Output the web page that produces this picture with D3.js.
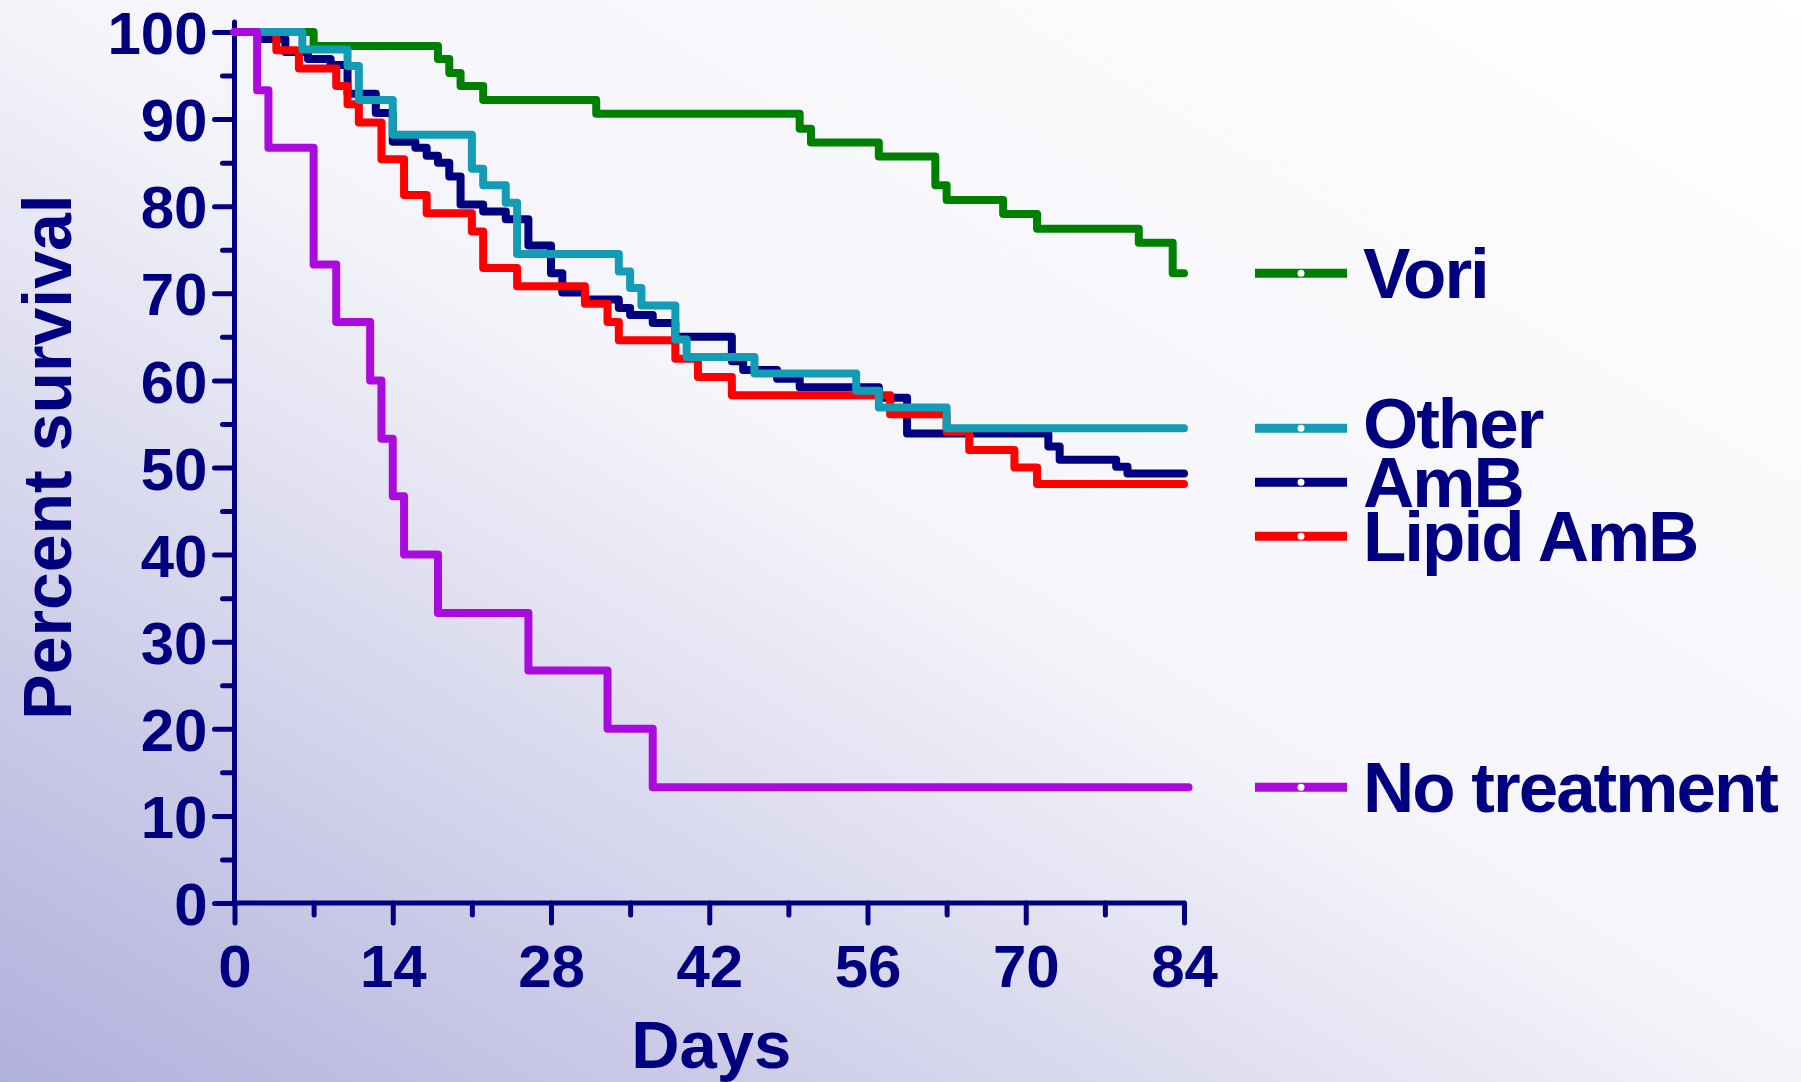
<!DOCTYPE html>
<html>
<head>
<meta charset="utf-8">
<script src="https://cdn.jsdelivr.net/npm/d3@7"></script>
<style>
  body { margin: 0; background: #ffffff; }
  svg text { font-family: "Liberation Sans", Arial, sans-serif; font-weight: bold; fill: #000080; }
</style>
</head>
<body>
<script>

// Survival data (days, percent survival)
var voriDays = [0, 7, 18, 19, 20, 22, 32, 50, 51, 57, 62, 63, 68, 71, 80, 83, 84]
var voriSurv = [100, 98.4, 96.9, 95.3, 93.8, 92.2, 90.6, 88.9, 87.3, 85.7, 82.4, 80.7, 79.1, 77.4, 75.8, 72.3, 72.3]

var otherDays = [0, 6, 10, 11, 14, 21, 22, 24, 25, 34, 35, 36, 39, 40, 46, 55, 57, 63, 84]
var otherSurv = [100, 98.0, 96.1, 92.2, 88.2, 84.3, 82.4, 80.4, 74.5, 72.5, 70.6, 68.6, 64.7, 62.7, 60.8, 58.8, 56.9, 54.5, 54.5]

var ambDays = [0, 2.5, 4.5, 6.5, 8.5, 10, 12.5, 14, 16, 17, 18, 19, 20, 22, 24, 26, 28, 29, 31, 34, 35, 37, 39, 44, 45, 48, 50, 57, 59.5, 72, 73, 78, 79, 84]
var ambSurv = [100, 99.2, 97.7, 96.9, 96.2, 92.9, 90.7, 87.4, 86.7, 85.8, 85.0, 83.4, 80.2, 79.4, 78.5, 75.5, 72.3, 70.1, 69.3, 68.3, 67.5, 66.6, 65.0, 62.2, 61.2, 60.2, 59.2, 58.0, 53.9, 52.4, 50.9, 50.1, 49.3, 49.3]

var lipidDays = [0, 3.7, 5.7, 9, 10, 11, 13, 15, 17, 21, 22, 25, 31, 33, 34, 39, 41, 44, 58, 63, 65, 69, 71, 84]
var lipidSurv = [100, 97.9, 95.8, 93.8, 91.7, 89.6, 85.4, 81.3, 79.2, 77.1, 72.9, 70.8, 68.8, 66.7, 64.6, 62.5, 60.4, 58.3, 56.1, 54.1, 52.0, 50.0, 48.1, 48.1]

var noTreatDays = [0, 2, 3, 7, 9, 12, 13, 14, 15, 18, 26, 33, 37, 84.4]
var noTreatSurv = [100, 93.3, 86.7, 73.3, 66.7, 60, 53.3, 46.7, 40, 33.3, 26.7, 20, 13.3, 13.3]

// Series names and colours (legend order)
var names = ["Vori", "Other", "AmB", "Lipid AmB", "No treatment"]
var colors = ["#008000", "#139cb5", "#000080", "#ff0000", "#aa0ade"]

// Axis ticks
var xTicks = [0, 14, 28, 42, 56, 70, 84]
var xMinor = [7, 21, 35, 49, 63, 77]
var yTicks = [0, 10, 20, 30, 40, 50, 60, 70, 80, 90, 100]
var yMinor = [5, 15, 25, 35, 45, 55, 65, 75, 85, 95]

// Build series list
var series = [
  {name: names[0], color: colors[0], days: voriDays, surv: voriSurv},
  {name: names[1], color: colors[1], days: otherDays, surv: otherSurv},
  {name: names[2], color: colors[2], days: ambDays, surv: ambSurv},
  {name: names[3], color: colors[3], days: lipidDays, surv: lipidSurv},
  {name: names[4], color: colors[4], days: noTreatDays, surv: noTreatSurv}
]

// Size
var W = 1801, H = 1082;

// Scales
var x = d3.scaleLinear().domain([0, 84]).range([234.5, 1184]);
var y = d3.scaleLinear().domain([0, 100]).range([903, 32]);

// SVG
var svg = d3.select("body").append("svg")
    .attr("width", W)
    .attr("height", H);

// Background gradient, lavender bottom-left to white
var grad = svg.append("defs").append("linearGradient")
    .attr("id", "bg")
    .attr("x1", 0).attr("y1", 1)
    .attr("x2", 1).attr("y2", 0);
grad.append("stop").attr("offset", 0).attr("stop-color", "rgb(176,176,221)");
grad.append("stop").attr("offset", 0.25).attr("stop-color", "rgb(210,210,235)");
grad.append("stop").attr("offset", 0.5).attr("stop-color", "rgb(244,244,250)");
grad.append("stop").attr("offset", 1).attr("stop-color", "rgb(255,255,255)");

svg.append("rect")
   .attr("width", W)
   .attr("height", H)
   .attr("fill", "url(#bg)");

var axisColor = "#000080";

// Y-axis (major with labels, minor without)
var yAxis = svg.append("g")
   .attr("transform", "translate(" + x(0) + ",0)")
   .call(d3.axisLeft(y).tickValues(yTicks).tickSize(20).tickSizeOuter(0).tickPadding(7));
svg.append("g")
   .attr("transform", "translate(" + x(0) + ",0)")
   .call(d3.axisLeft(y).tickValues(yMinor).tickSize(12).tickSizeOuter(0).tickFormat(""));

// X-axis
var xAxis = svg.append("g")
   .attr("transform", "translate(0," + y(0) + ")")
   .call(d3.axisBottom(x).tickValues(xTicks).tickSize(20).tickSizeOuter(0).tickPadding(21));
svg.append("g")
   .attr("transform", "translate(0," + y(0) + ")")
   .call(d3.axisBottom(x).tickValues(xMinor).tickSize(12).tickSizeOuter(0).tickFormat(""));

// Style axes
svg.selectAll(".domain").remove();
svg.selectAll(".tick line")
   .attr("stroke", axisColor)
   .attr("stroke-width", 5)
   .attr("stroke-linecap", "round");
svg.selectAll(".tick text")
   .style("font-size", "60px")
   .attr("fill", axisColor);
yAxis.selectAll(".tick text").attr("dy", "0.36em");

// Axis lines
svg.append("line")
   .attr("x1", x(0)).attr("x2", x(0))
   .attr("y1", y(0)).attr("y2", y(100) - 10)
   .attr("stroke", axisColor)
   .attr("stroke-width", 5)
   .attr("stroke-linecap", "round");
svg.append("line")
   .attr("x1", x(0)).attr("x2", x(84))
   .attr("y1", y(0)).attr("y2", y(0))
   .attr("stroke", axisColor)
   .attr("stroke-width", 5)
   .attr("stroke-linecap", "round");

// Axis titles
svg.append("text")
   .attr("transform", "translate(71," + 457 + ") rotate(-90)")
   .style("text-anchor", "middle")
   .style("font-size", "68px")
   .text("Percent survival");

svg.append("text")
   .attr("x", (x(0) + x(84)) / 2 + 2)
   .attr("y", 1068)
   .style("text-anchor", "middle")
   .style("font-size", "67px")
   .text("Days");

// Step lines
var line = d3.line()
    .curve(d3.curveStepAfter)
    .x(function(d) { return x(d[0]); })
    .y(function(d) { return y(d[1]); });

// Drawing order so overlaps look like the original
var drawOrder = [0, 2, 3, 1, 4];
drawOrder.forEach(function(i) {
  var s = series[i];
  svg.append("path")
     .datum(d3.zip(s.days, s.surv))
     .attr("d", line)
     .attr("fill", "none")
     .attr("stroke", s.color)
     .attr("stroke-width", 8)
     .attr("stroke-linejoin", "round")
     .attr("stroke-linecap", "round");
});

// Legend placed at the end value of each curve, nudged down when crowded
var legendY = [];
series.forEach(function(s, i) {
  var ly = y(s.surv[s.surv.length - 1]);
  if (i > 0 && ly - legendY[i - 1] < 50) ly = legendY[i - 1] + 54;
  legendY.push(ly);
});

var legend = svg.selectAll(".legend")
    .data(series)
    .enter().append("g")
    .attr("class", "legend")
    .attr("transform", function(d, i) { return "translate(1255," + legendY[i] + ")"; });

legend.append("line")
   .attr("x1", 0).attr("x2", 92)
   .attr("y1", 0).attr("y2", 0)
   .attr("stroke", function(d) { return d.color; })
   .attr("stroke-width", 9);

legend.append("circle")
   .attr("cx", 46)
   .attr("cy", 0)
   .attr("r", 3.5)
   .attr("fill", "#ffffff");

legend.append("text")
   .attr("x", 108)
   .attr("y", function(d, i) { return i == 1 ? 20 : 25; })
   .style("font-size", "71px")
   .style("letter-spacing", "-2px")
   .text(function(d) { return d.name; });

</script>
</body>
</html>
